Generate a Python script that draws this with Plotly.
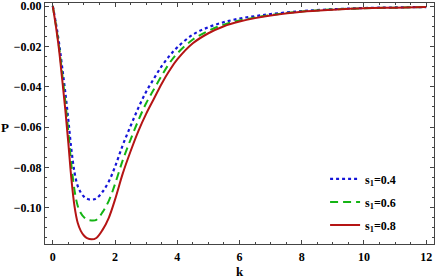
import plotly.graph_objects as go

k = [0, 0.1, 0.2, 0.3, 0.4, 0.5, 0.6, 0.7, 0.8, 0.9, 1.0, 1.1, 1.25, 1.4, 1.6, 1.8,
     2.0, 2.25, 2.5, 2.75, 3.0, 3.25, 3.5, 3.75, 4.0, 4.5, 5.0, 5.5, 6.0, 6.5, 7,
     8, 9, 10, 11, 12]

p_s04 = [0, -0.0085, -0.0182, -0.0302, -0.0425, -0.0565, -0.0714, -0.0826, -0.0892,
         -0.0925, -0.0945, -0.0956, -0.0960, -0.0954, -0.0921, -0.0870, -0.0797,
         -0.0689, -0.0595, -0.0505, -0.0425, -0.0360, -0.0298, -0.0247, -0.0205,
         -0.0142, -0.0105, -0.0080, -0.0062, -0.0050, -0.0040, -0.0025, -0.0016,
         -0.0010, -0.0007, -0.0005]

p_s06 = [0, -0.0094, -0.0200, -0.0333, -0.0470, -0.0625, -0.0790, -0.0915, -0.0990,
         -0.1026, -0.1047, -0.1059, -0.1063, -0.1060, -0.1022, -0.0966, -0.0883,
         -0.0764, -0.0662, -0.0567, -0.0482, -0.0413, -0.0345, -0.0283, -0.0235,
         -0.0166, -0.0123, -0.0092, -0.0072, -0.0057, -0.0045, -0.0027, -0.0017,
         -0.0011, -0.0008, -0.0005]

p_s08 = [0, -0.0100, -0.0215, -0.0360, -0.0510, -0.0680, -0.0860, -0.0995, -0.1075,
         -0.1115, -0.1138, -0.1151, -0.1157, -0.1150, -0.1110, -0.1050, -0.0960,
         -0.0830, -0.0720, -0.0620, -0.0535, -0.0460, -0.0385, -0.0320, -0.0265,
         -0.0185, -0.0135, -0.0100, -0.0077, -0.0060, -0.0047, -0.0028, -0.0018,
         -0.0011, -0.0008, -0.0005]

labels = ["s<sub>1</sub>=0.4", "s<sub>1</sub>=0.6", "s<sub>1</sub>=0.8"]
x_ticks = [0, 2, 4, 6, 8, 10, 12]
x_ticktext = ["<b>0</b>", "<b>2</b>", "<b>4</b>", "<b>6</b>", "<b>8</b>", "<b>10</b>", "<b>12</b>"]
y_ticks = [0.00, -0.02, -0.04, -0.06, -0.08, -0.10]
y_ticktext = ["<b>0.00</b>", "<b>\u22120.02</b>", "<b>\u22120.04</b>", "<b>\u22120.06</b>",
              "<b>\u22120.08</b>", "<b>\u22120.10</b>"]

serif = "Liberation Serif"

fig = go.Figure()
fig.add_trace(go.Scatter(x=k, y=p_s04, mode="lines", name=labels[0], legendgroup="a",
                         line=dict(color="#1515d8", width=2.2, dash="dot", shape="spline")))
fig.add_trace(go.Scatter(x=k, y=p_s06, mode="lines", name=labels[1], legendgroup="b",
                         line=dict(color="#14b414", width=2, dash="8px,5px", shape="spline")))
fig.add_trace(go.Scatter(x=k, y=p_s08, mode="lines", name=labels[2], legendgroup="c",
                         line=dict(color="#b51414", width=2, shape="spline")))

axis_common = dict(showgrid=False, zeroline=False, showline=True, linecolor="#444",
                   linewidth=1, mirror="allticks", ticks="inside", ticklen=4,
                   tickcolor="#444", automargin=False, ticklabeloverflow="allow",
                   tickfont=dict(family=serif, size=12, color="black", weight="bold"))

fig.update_xaxes(range=[-0.25, 12.25], tickvals=x_ticks, ticktext=x_ticktext,
                 ticklabelstandoff=2,
                 minor=dict(dtick=0.5, ticks="inside", ticklen=2, tickcolor="#444"),
                 **axis_common)
fig.update_yaxes(range=[-0.118, 0.0015], tickvals=y_ticks, ticktext=y_ticktext,
                 minor=dict(dtick=0.005, ticks="inside", ticklen=2, tickcolor="#444"),
                 **axis_common)

fig.add_annotation(text="<b>P</b>", xref="paper", yref="paper", x=-0.103, y=0.485,
                   xanchor="center", yanchor="middle",
                   showarrow=False, font=dict(family=serif, size=13, color="black"))
fig.add_annotation(text="<b>k</b>", xref="paper", yref="paper", x=0.501, y=-0.115,
                   xanchor="center", yanchor="middle",
                   showarrow=False, font=dict(family=serif, size=13, color="black"))

fig.update_layout(
    template="none",
    width=436, height=280,
    margin=dict(l=45, r=2, t=3, b=36, autoexpand=False),
    paper_bgcolor="white", plot_bgcolor="white",
    font=dict(family=serif, size=12, color="black"),
    legend=dict(x=0.72, y=0.33, xanchor="left", yanchor="top", bgcolor="rgba(0,0,0,0)",
                tracegroupgap=4, font=dict(family=serif, size=12, weight="bold")),
    showlegend=True,
)

fig.write_html("out.html", config={"displayModeBar": False},
               post_script="document.body.style.margin='0';document.body.style.padding='0';"
                           "document.body.style.overflow='hidden';")
